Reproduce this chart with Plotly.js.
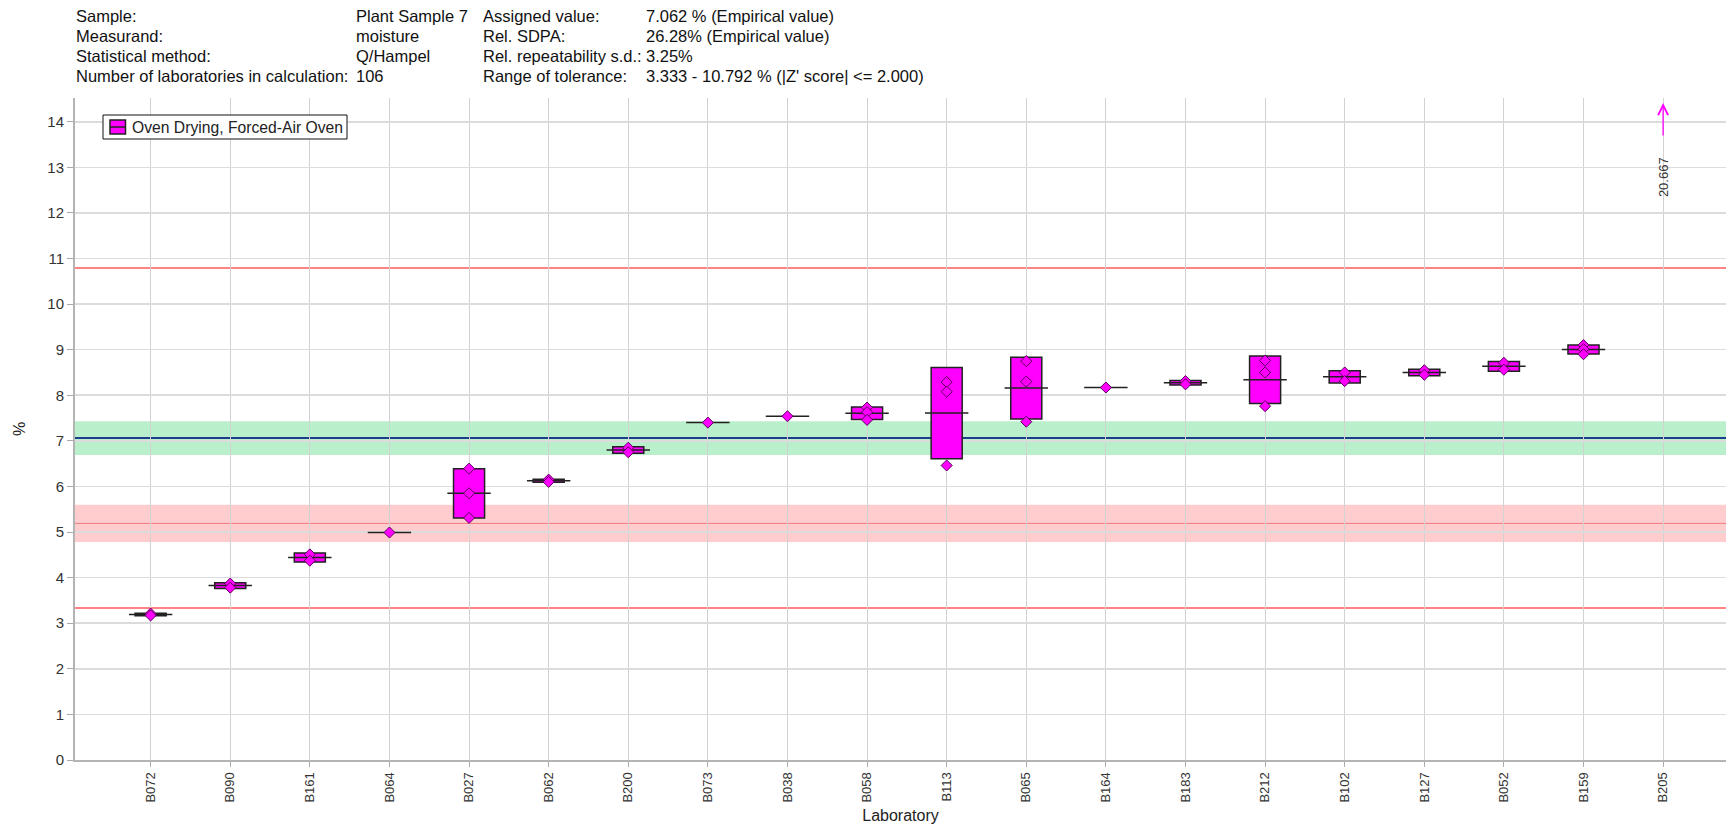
<!DOCTYPE html>
<html>
<head>
<meta charset="utf-8">
<script src="https://cdn.plot.ly/plotly-3.0.1.min.js"></script>
<style>
  html, body { margin: 0; padding: 0; background: #fff; }
  #chart { width: 1726px; height: 827px; }
</style>
</head>
<body>
<div id="chart"></div>
<script>
// ---------------- DATA ----------------
const labs = ['B072','B090','B161','B064','B027','B062','B200','B073','B038','B058',
              'B113','B065','B164','B183','B212','B102','B127','B052','B159','B205'];
// replicate results (%), null where no replicate
const rep1 = [3.21, 3.87, 4.51, 4.99, 6.39, 6.15, 6.85, 7.40, 7.54, 7.73,
              8.29, 8.75, 8.17, 8.31, 8.76, 8.50, 8.55, 8.71, 9.10, 20.667];
const rep2 = [3.17, 3.78, 4.37, null, 5.85, 6.10, 6.75, null, null, 7.63,
              8.08, 8.30, null, 8.24, 8.50, 8.31, 8.45, 8.56, 9.01, null];
const rep3 = [null, null, null, null, 5.31, null, null, null, null, 7.46,
              6.46, 7.42, null, null, 7.76, null, null, null, 8.90, null];

const seriesName = 'Oven Drying, Forced-Air Oven';
const assignedValue = 7.062;
const assignedBandHalf = 0.37;
const toleranceLow = 3.333;
const toleranceHigh = 10.792;
const secondValue = 5.19;
const secondBandHalf = 0.41;

const headerLabelsA = ['Sample:', 'Measurand:', 'Statistical method:', 'Number of laboratories in calculation:'];
const headerValuesA = ['Plant Sample 7', 'moisture', 'Q/Hampel', '106'];
const headerLabelsB = ['Assigned value:', 'Rel. SDPA:', 'Rel. repeatability s.d.:', 'Range of tolerance:'];
const headerValuesB = ['7.062 % (Empirical value)', '26.28% (Empirical value)', '3.25%', "3.333 - 10.792 % (|Z' score| <= 2.000)"];

const yMax = 14.52;
const xRange = [-0.95, 19.79];

// ---------------- GEOMETRY ----------------
const W = 1726, H = 827;
const M = { l: 75, r: 0, t: 98, b: 67 };
const plotW = W - M.l - M.r, plotH = H - M.t - M.b;
const px2paperX = px => (px - M.l) / plotW;
const px2paperY = py => (H - M.b - py) / plotH;

// ---------------- STATS ----------------
const FONT = '"Liberation Sans", Arial, sans-serif';
const MAG = '#ff00ff';
const ptsX = [], ptsY = [];
const meanX = [], meanY = [];
const boxX = [], boxBase = [], boxH = [];
const outX = [], outY = [];
labs.forEach((lab, i) => {
  const vals = [rep1[i], rep2[i], rep3[i]].filter(v => v !== null);
  const m = vals.reduce((a, b) => a + b, 0) / vals.length;
  if (m > yMax) { outX.push(lab); outY.push(m); return; }
  vals.forEach(v => { ptsX.push(lab); ptsY.push(v); });
  meanX.push(lab); meanY.push(m);
  if (vals.length > 1) {
    const sd = Math.sqrt(vals.reduce((a, v) => a + (v - m) * (v - m), 0) / (vals.length - 1));
    boxX.push(lab); boxBase.push(m - sd); boxH.push(2 * sd);
  }
});

const traces = [
  {
    type: 'bar', name: seriesName, x: boxX, y: boxH, base: boxBase, width: 0.39,
    marker: { color: MAG, line: { color: '#222', width: 1.5 } },
    showlegend: false, hoverinfo: 'x'
  },
  {
    type: 'scatter', mode: 'markers', x: meanX, y: meanY, showlegend: false,
    marker: { symbol: 'line-ew', size: 31, color: '#222', line: { color: '#222', width: 1.5 } },
    hoverinfo: 'y'
  },
  {
    type: 'scatter', mode: 'markers', x: ptsX, y: ptsY, showlegend: false,
    marker: { symbol: 'diamond', size: 8.5, color: MAG, line: { color: '#5a005a', width: 1 } },
    hoverinfo: 'y'
  }
];

// ---------------- SHAPES ----------------
const shapes = [
  { type: 'rect', xref: 'paper', x0: 0, x1: 1, yref: 'y',
    y0: assignedValue - assignedBandHalf, y1: assignedValue + assignedBandHalf,
    fillcolor: 'rgba(60,210,110,0.36)', line: { width: 0 }, layer: 'below' },
  { type: 'rect', xref: 'paper', x0: 0, x1: 1, yref: 'y',
    y0: secondValue - secondBandHalf, y1: secondValue + secondBandHalf,
    fillcolor: 'rgba(255,60,60,0.26)', line: { width: 0 }, layer: 'below' },
  { type: 'line', xref: 'paper', x0: 0, x1: 1, yref: 'y', y0: secondValue, y1: secondValue,
    line: { color: '#f07a7a', width: 1 }, layer: 'between' },
  { type: 'line', xref: 'paper', x0: 0, x1: 1, yref: 'y', y0: toleranceLow, y1: toleranceLow,
    line: { color: '#ff5a5a', width: 1.5 }, layer: 'between' },
  { type: 'line', xref: 'paper', x0: 0, x1: 1, yref: 'y', y0: toleranceHigh, y1: toleranceHigh,
    line: { color: '#ff5a5a', width: 1.5 }, layer: 'between' },
  { type: 'line', xref: 'paper', x0: 0, x1: 1, yref: 'y', y0: assignedValue, y1: assignedValue,
    line: { color: '#203c8c', width: 2 }, layer: 'between' }
];

// ---------------- LEGEND (drawn) ----------------
const LEG = { x0: 103, x1: 347, y0: 115, y1: 139, sx0: 110, sx1: 125.5, sy0: 120, sy1: 134, tx: 130 };
shapes.push(
  { type: 'rect', xref: 'paper', yref: 'paper',
    x0: px2paperX(LEG.x0), x1: px2paperX(LEG.x1), y0: px2paperY(LEG.y1), y1: px2paperY(LEG.y0),
    fillcolor: '#fff', line: { color: '#111', width: 1 }, layer: 'above' },
  { type: 'rect', xref: 'paper', yref: 'paper',
    x0: px2paperX(LEG.sx0), x1: px2paperX(LEG.sx1), y0: px2paperY(LEG.sy1), y1: px2paperY(LEG.sy0),
    fillcolor: MAG, line: { color: '#222', width: 1.5 }, layer: 'above' },
  { type: 'line', xref: 'paper', yref: 'paper',
    x0: px2paperX(LEG.sx0), x1: px2paperX(LEG.sx1),
    y0: px2paperY((LEG.sy0 + LEG.sy1) / 2), y1: px2paperY((LEG.sy0 + LEG.sy1) / 2),
    line: { color: '#222', width: 1.5 }, layer: 'above' }
);

// ---------------- ANNOTATIONS ----------------
const annotations = [];
annotations.push({
  xref: 'paper', yref: 'paper', x: px2paperX(LEG.tx), y: px2paperY((LEG.y0 + LEG.y1) / 2),
  xanchor: 'left', yanchor: 'middle', showarrow: false, text: seriesName,
  font: { family: FONT, size: 15.7, color: '#222' }
});
const rowsY = [16, 36, 56, 76];
const colsX = [74, 354, 481, 644];
[headerLabelsA, headerValuesA, headerLabelsB, headerValuesB].forEach((col, c) => {
  col.forEach((txt, r) => {
    annotations.push({
      xref: 'paper', yref: 'paper', x: px2paperX(colsX[c]), y: px2paperY(rowsY[r]),
      xanchor: 'left', yanchor: 'middle', showarrow: false, text: txt,
      font: { family: FONT, size: 16.5, color: '#111' }
    });
  });
});
outX.forEach((lab, i) => {
  annotations.push({
    xref: 'x', yref: 'paper', x: lab, y: px2paperY(103),
    text: outY[i].toFixed(3), textangle: -90, showarrow: true,
    arrowhead: 5, arrowsize: 1.5, arrowwidth: 1.3, arrowcolor: MAG,
    ax: 0, ay: 74, startstandoff: 20, standoff: 0,
    font: { family: FONT, size: 13, color: '#333' }
  });
});

const layout = {
  width: W, height: H,
  margin: M,
  paper_bgcolor: '#fff', plot_bgcolor: '#fff',
  font: { family: FONT, color: '#333' },
  showlegend: false,
  xaxis: {
    type: 'category', categoryorder: 'array', categoryarray: labs,
    range: xRange, tickangle: -90,
    tickfont: { family: FONT, size: 13, color: '#333' },
    ticks: 'outside', ticklen: 5, tickcolor: '#aaa',
    showgrid: true, gridcolor: '#d2d2d2', gridwidth: 1,
    showline: true, linecolor: '#b4b4b4', linewidth: 2,
    zeroline: false, fixedrange: true,
    title: { text: 'Laboratory', font: { family: FONT, size: 16, color: '#222' }, standoff: 8 }
  },
  yaxis: {
    range: [0, yMax], dtick: 1, tick0: 0,
    tickfont: { family: FONT, size: 15, color: '#333' },
    ticks: 'outside', ticklen: 6, tickcolor: '#aaa',
    showgrid: true, gridcolor: '#dcdcdc', gridwidth: 1.6,
    showline: true, linecolor: '#b4b4b4', linewidth: 2,
    zeroline: false, fixedrange: true,
    title: { text: '%', font: { family: FONT, size: 16, color: '#222' }, standoff: 18 }
  },
  bargap: 0,
  shapes: shapes,
  annotations: annotations
};

Plotly.newPlot('chart', traces, layout, { displayModeBar: false, staticPlot: true });
</script>
</body>
</html>
